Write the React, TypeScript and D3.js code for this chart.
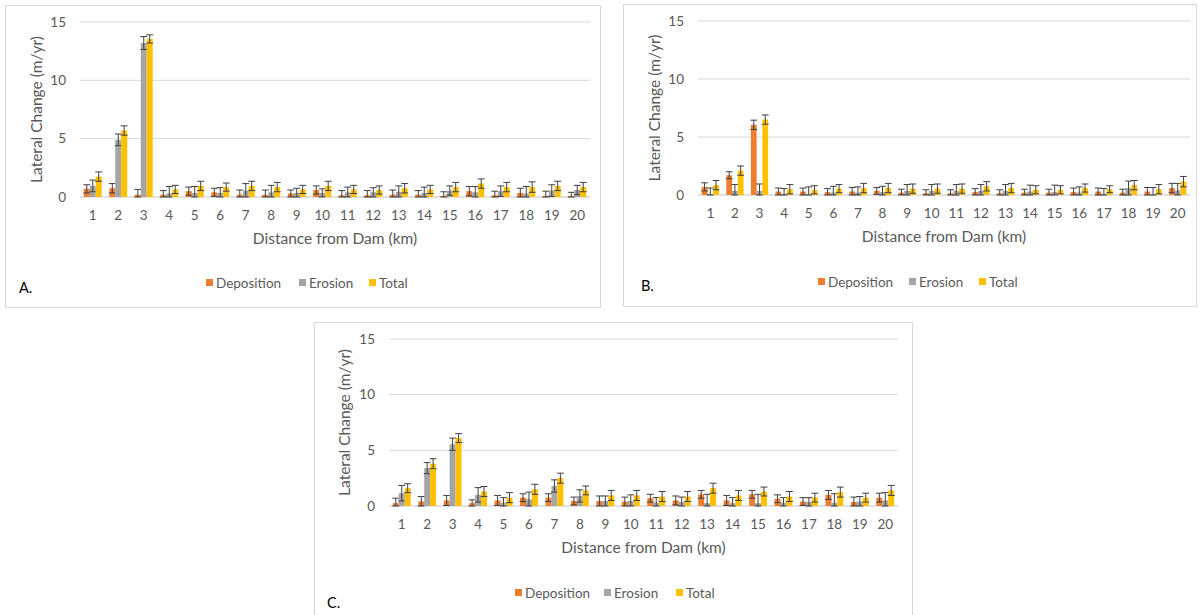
import { scaleBand, scaleLinear } from "d3";

const categories = ["1","2","3","4","5","6","7","8","9","10","11","12","13","14","15","16","17","18","19","20"];
const seriesNames = ["Deposition", "Erosion", "Total"];
const yTicks = [0, 5, 10, 15];

// panel A
const depA = [0.7,0.75,0.2,0.2,0.5,0.4,0.2,0.2,0.3,0.6,0.15,0.15,0.2,0.2,0.1,0.5,0.15,0.35,0.1,0.1];
const eroA = [0.95,4.9,13.2,0.3,0.35,0.35,0.55,0.4,0.35,0.35,0.4,0.4,0.45,0.35,0.55,0.4,0.5,0.3,0.55,0.6];
const totA = [1.75,5.7,13.55,0.65,0.95,0.85,0.95,0.85,0.65,0.95,0.65,0.6,0.75,0.65,0.85,1.15,0.85,0.85,0.95,0.85];
const depErrA = [0.35,0.4,0.45,0.35,0.35,0.35,0.4,0.4,0.3,0.35,0.4,0.4,0.4,0.35,0.35,0.4,0.35,0.4,0.4,0.3];
const eroErrA = [0.5,0.5,0.55,0.6,0.55,0.45,0.6,0.6,0.4,0.35,0.45,0.4,0.5,0.5,0.4,0.5,0.45,0.6,0.5,0.4];
const totErrA = [0.4,0.4,0.35,0.35,0.4,0.35,0.4,0.4,0.35,0.4,0.35,0.35,0.4,0.35,0.4,0.4,0.4,0.45,0.4,0.4];

// panel B
const depB = [0.7,1.7,6.05,0.3,0.3,0.25,0.3,0.35,0.2,0.15,0.15,0.25,0.15,0.2,0.2,0.25,0.3,0.2,0.3,0.6];
const eroB = [0.1,0.35,0.35,0.1,0.1,0.2,0.2,0.25,0.35,0.35,0.35,0.35,0.35,0.3,0.25,0.2,0.1,0.6,0.05,0.4];
const totB = [0.85,2.1,6.5,0.5,0.45,0.55,0.6,0.6,0.55,0.55,0.55,0.75,0.6,0.45,0.45,0.6,0.5,0.85,0.5,1.15];
const depErrB = [0.35,0.3,0.4,0.3,0.3,0.3,0.35,0.3,0.3,0.3,0.3,0.3,0.3,0.3,0.3,0.35,0.3,0.3,0.35,0.4];
const eroErrB = [0.5,0.55,0.6,0.45,0.6,0.55,0.5,0.5,0.55,0.55,0.55,0.55,0.55,0.55,0.6,0.5,0.45,0.6,0.6,0.6];
const totErrB = [0.4,0.4,0.4,0.4,0.35,0.35,0.4,0.4,0.4,0.4,0.4,0.4,0.4,0.35,0.35,0.35,0.3,0.4,0.4,0.45];

// panel C
const depC = [0.25,0.4,0.5,0.25,0.5,0.75,0.75,0.45,0.45,0.4,0.7,0.5,1.05,0.5,1.05,0.65,0.4,1.0,0.35,0.75];
const eroC = [1.15,3.4,5.55,1.0,0.3,0.6,1.8,0.9,0.45,0.45,0.3,0.35,0.25,0.25,0.25,0.3,0.35,0.3,0.4,0.5];
const totC = [1.6,3.8,6.1,1.3,0.75,1.5,2.5,1.4,0.95,0.95,0.85,0.85,1.6,0.95,1.3,0.85,0.75,1.25,0.75,1.4];
const depErrC = [0.45,0.45,0.45,0.3,0.45,0.35,0.35,0.35,0.45,0.4,0.35,0.4,0.35,0.45,0.35,0.35,0.35,0.4,0.45,0.4];
const eroErrC = [0.7,0.5,0.55,0.65,0.45,0.65,0.55,0.55,0.45,0.55,0.45,0.45,0.8,0.5,0.8,0.45,0.4,0.8,0.45,0.7];
const totErrC = [0.4,0.45,0.4,0.45,0.45,0.45,0.45,0.4,0.45,0.45,0.45,0.45,0.45,0.45,0.4,0.45,0.4,0.45,0.4,0.45];

const colors = ["#ED7D31", "#A5A5A5", "#FFC000"];
const textColor = "#595959";
const gridColor = "#D9D9D9";
const font = "Lato, 'Open Sans', sans-serif";

type PanelProps = {
  label: string;
  box: [number, number, number, number];
  plot: { left: number; right: number; top: number; bottom: number };
  values: number[][];
  errors: number[][];
  legendX: number[];
  legendY: number;
  titleY: number;
  yTitleX: number;
  labelPos: [number, number];
};

function Panel({ label, box, plot, values, errors, legendX, legendY, titleY, yTitleX, labelPos }: PanelProps) {
  const x = scaleBand().domain(categories).range([plot.left, plot.right]).paddingInner(0.3).paddingOuter(0.15);
  const inner = scaleBand().domain(seriesNames).range([0, x.bandwidth()]);
  const y = scaleLinear().domain([0, 15]).range([plot.bottom, plot.top]);
  const cap = inner.bandwidth() / 2 + 0.5;
  const midX = (plot.left + plot.right) / 2;
  const midY = (plot.top + plot.bottom) / 2;

  return (
    <g>
      <rect x={box[0] + 0.5} y={box[1] + 0.5} width={box[2]} height={box[3]} fill="#fff" stroke={gridColor} />
      {yTicks.map((t) => (
        <g key={t}>
          <line x1={plot.left} x2={plot.right} y1={y(t)} y2={y(t)} stroke={gridColor} strokeWidth={t === 0 ? 1.5 : 1} />
          <text x={plot.left - 14} y={y(t)} dy="0.35em" textAnchor="end" fontSize={13.5} fill={textColor}>{t}</text>
        </g>
      ))}
      {categories.map((c, i) => (
        <g key={c}>
          {seriesNames.map((s, k) => {
            const v = values[k][i];
            const e = errors[k][i];
            const bx = (x(c) as number) + (inner(s) as number);
            const cx = bx + inner.bandwidth() / 2;
            return (
              <g key={s}>
                <rect x={bx} y={y(v)} width={inner.bandwidth()} height={y(0) - y(v)} fill={colors[k]} />
                <g stroke="#404040" strokeWidth={1}>
                  <line x1={cx} x2={cx} y1={y(v + e)} y2={y(Math.max(0, v - e))} />
                  <line x1={cx - cap} x2={cx + cap} y1={y(v + e)} y2={y(v + e)} />
                  <line x1={cx - cap} x2={cx + cap} y1={y(Math.max(0, v - e))} y2={y(Math.max(0, v - e))} />
                </g>
              </g>
            );
          })}
          <text x={(x(c) as number) + x.bandwidth() / 2} y={plot.bottom + 23} textAnchor="middle" fontSize={13.5} fill={textColor}>{c}</text>
        </g>
      ))}
      <text x={midX} y={titleY} textAnchor="middle" fontSize={15.5} fill={textColor}>Distance from Dam (km)</text>
      <text transform={`translate(${yTitleX},${midY}) rotate(-90)`} textAnchor="middle" dy="0.35em" fontSize={15.5} fill={textColor}>Lateral Change (m/yr)</text>
      {seriesNames.map((s, k) => (
        <g key={s}>
          <rect x={legendX[k]} y={legendY - 4} width={7} height={7} fill={colors[k]} />
          <text x={legendX[k] + 10} y={legendY} dy="0.35em" fontSize={13.5} fill={textColor}>{s}</text>
        </g>
      ))}
      <text x={labelPos[0]} y={labelPos[1]} fontSize={14.5} fill="#000">{label}</text>
    </g>
  );
}

export default function App() {
  return (
    <div style={{ position: "absolute", left: 0, top: 0 }}>
      <svg width={1199} height={615} style={{ display: "block", fontFamily: font }}>
        <rect width={1199} height={615} fill="#fff" />
        <Panel
          label="A."
          box={[5, 5, 595, 302]}
          plot={{ left: 80, right: 590, top: 22, bottom: 197 }}
          values={[depA, eroA, totA]}
          errors={[depErrA, eroErrA, totErrA]}
          legendX={[206, 299, 369]}
          legendY={283}
          titleY={244}
          yTitleX={37}
          labelPos={[19, 293]}
        />
        <Panel
          label="B."
          box={[623, 4, 573, 302]}
          plot={{ left: 698, right: 1190, top: 21, bottom: 195 }}
          values={[depB, eroB, totB]}
          errors={[depErrB, eroErrB, totErrB]}
          legendX={[818, 909, 979]}
          legendY={282}
          titleY={242}
          yTitleX={655}
          labelPos={[641, 291]}
        />
        <Panel
          label="C."
          box={[314, 322, 598, 300]}
          plot={{ left: 389, right: 898, top: 339, bottom: 506 }}
          values={[depC, eroC, totC]}
          errors={[depErrC, eroErrC, totErrC]}
          legendX={[515, 604, 676]}
          legendY={593}
          titleY={553}
          yTitleX={345}
          labelPos={[327, 608]}
        />
      </svg>
    </div>
  );
}
